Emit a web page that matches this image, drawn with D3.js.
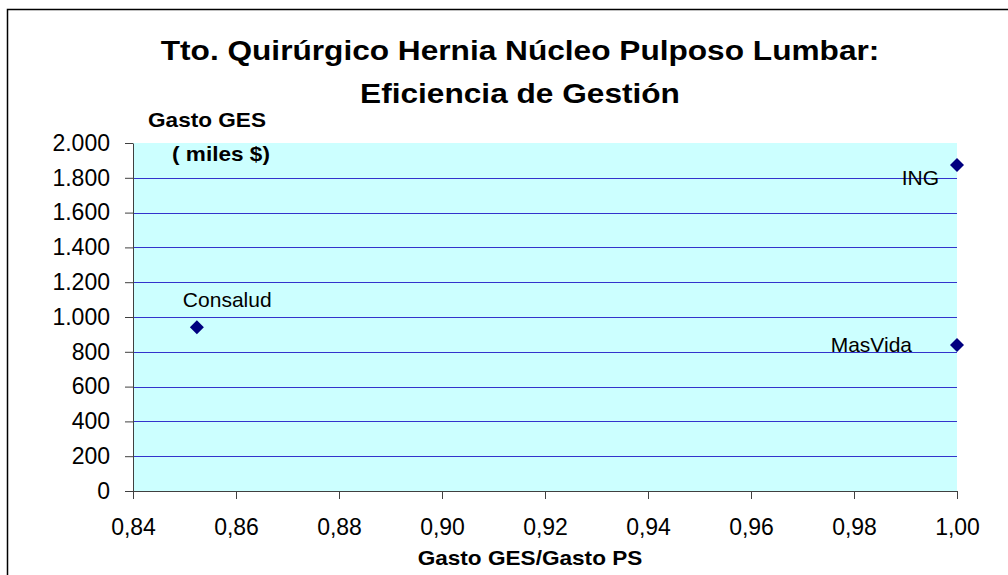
<!DOCTYPE html>
<html>
<head>
<meta charset="utf-8">
<script src="https://cdn.jsdelivr.net/npm/d3@7"></script>
<style>
  body { margin: 0; background: #fff; }
  svg text { font-family: "Liberation Sans", Arial, sans-serif; fill: #000; }
</style>
</head>
<body>
<div id="chart"></div>
<script>
// data
var aseguradoras = ["Consalud", "ING", "MasVida"];
var gastoRatio = [0.8524, 1.00, 1.00];      // Gasto GES / Gasto PS
var gastoGES = [941, 1874, 839];             // miles $

var xTicks = [0.84, 0.86, 0.88, 0.90, 0.92, 0.94, 0.96, 0.98, 1.00];
var yTicks = [0, 200, 400, 600, 800, 1000, 1200, 1400, 1600, 1800, 2000];

var titleLines = ["Tto. Quirúrgico Hernia Núcleo Pulposo Lumbar:", "Eficiencia de Gestión"];

var svgWidth = 1008;
var svgHeight = 575;

var margin = { top: 143, right: 51, bottom: 84, left: 133 };
var width = svgWidth - margin.left - margin.right;
var height = svgHeight - margin.top - margin.bottom;

var svg = d3.select("#chart")
    .append("svg")
    .attr("width", svgWidth)
    .attr("height", svgHeight);

// outer frame (runs off the right and bottom edge)
svg.append("rect")
    .attr("x", 7.5)
    .attr("y", 9.5)
    .attr("width", 1100)
    .attr("height", 700)
    .attr("fill", "none")
    .attr("stroke", "#000")
    .attr("stroke-width", 1.5);

var chartGroup = svg.append("g")
    .attr("transform", `translate(${margin.left}, ${margin.top})`);

var xScale = d3.scaleLinear().domain([0.84, 1.00]).range([0, width]);
var yScale = d3.scaleLinear().domain([0, 2000]).range([height, 0]);

// plot area
chartGroup.append("rect")
    .attr("width", width)
    .attr("height", height)
    .attr("fill", "#CCFFFF");

// gridlines
chartGroup.selectAll(".grid")
    .data(yTicks.filter(d => d > 0 && d < 2000))
    .enter()
    .append("line")
    .attr("x1", 0)
    .attr("x2", width)
    .attr("y1", d => Math.round(yScale(d)) + 0.5)
    .attr("y2", d => Math.round(yScale(d)) + 0.5)
    .attr("stroke", "#3333CC")
    .attr("stroke-width", 1);

var fmtY = d => d === 0 ? "0" : d3.format(",")(d).replace(",", ".");
var fmtX = d => d3.format(".2f")(d).replace(".", ",");

var leftAxis = d3.axisLeft(yScale)
    .tickValues(yTicks)
    .tickFormat(fmtY)
    .tickSize(8)
    .tickSizeOuter(0)
    .tickPadding(15);

var bottomAxis = d3.axisBottom(xScale)
    .tickValues(xTicks)
    .tickFormat(fmtX)
    .tickSize(8)
    .tickSizeOuter(0)
    .tickPadding(20);

var yAxis = chartGroup.append("g").call(leftAxis);
var xAxis = chartGroup.append("g")
    .attr("transform", `translate(0, ${height})`)
    .call(bottomAxis);

[xAxis, yAxis].forEach(function (ax) {
    ax.selectAll("path, line").attr("stroke", "#404040");
    ax.selectAll("text")
        .style("font-size", "23px")
        .style("font-family", "'Liberation Sans', Arial, sans-serif")
        .attr("fill", "#000");
});

// markers
var diamond = d3.symbol().type(d3.symbolSquare).size(98);

chartGroup.selectAll(".point")
    .data(aseguradoras)
    .enter()
    .append("path")
    .attr("d", diamond)
    .attr("transform", (d, i) => `translate(${xScale(gastoRatio[i])}, ${yScale(gastoGES[i])}) rotate(45)`)
    .attr("fill", "#000080");

// point labels
var labelOffset = {
    "Consalud": { dx: -14, dy: -20, anchor: "start" },
    "ING": { dx: -18, dy: 20, anchor: "end" },
    "MasVida": { dx: -45, dy: 7, anchor: "end" }
};

chartGroup.selectAll(".plabel")
    .data(aseguradoras)
    .enter()
    .append("text")
    .attr("x", (d, i) => xScale(gastoRatio[i]) + labelOffset[d].dx)
    .attr("y", (d, i) => yScale(gastoGES[i]) + labelOffset[d].dy)
    .attr("text-anchor", d => labelOffset[d].anchor)
    .style("font-size", "21px")
    .text(d => d);

// bold texts are drawn a bit wider, like the original rendering
function boldText(x, y, txt, size, anchor) {
    svg.append("g")
        .attr("transform", `translate(${x}, ${y}) scale(1.13, 1)`)
        .append("text")
        .attr("text-anchor", anchor)
        .style("font-size", size + "px")
        .style("font-weight", "bold")
        .text(txt);
}

boldText(520, 60, titleLines[0], 28, "middle");
boldText(520, 103, titleLines[1], 28, "middle");

boldText(148, 127, "Gasto GES", 20, "start");
boldText(172, 161, "( miles $)", 20, "start");

boldText(530, 565, "Gasto GES/Gasto PS", 20, "middle");
</script>
</body>
</html>
